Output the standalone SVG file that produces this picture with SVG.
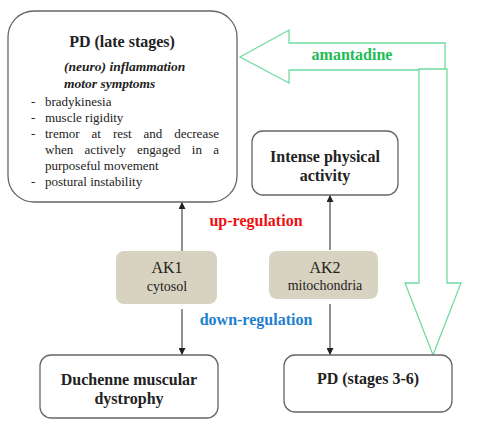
<svg xmlns="http://www.w3.org/2000/svg" width="500" height="426" viewBox="0 0 500 426">
<defs>
<style>
.box{fill:#fff;stroke:#666;stroke-width:1.3}
.ak{fill:#d8d3c1;stroke:none}
.t{font-family:"Liberation Serif","Times New Roman",serif;fill:#222}
.b{font-weight:bold}
.c{text-anchor:middle}
.li{font-size:13px}
.conn{stroke:#222;stroke-width:1;fill:none}
.green{fill:#fff;stroke:#6fdc9f;stroke-width:1.3}
</style>
<marker id="ah" viewBox="0 0 10 10" refX="10" refY="5" markerWidth="7" markerHeight="7" markerUnits="userSpaceOnUse" orient="auto">
<path d="M0,0 L10,5 L0,10 z" fill="#222"/>
</marker>
</defs>
<rect width="500" height="426" fill="#fff"/>

<g id="amantadine-arrow">
<polygon class="green" points="240,57 289,30 289,43 445,43 445,70 289,70 289,83"/>
<polygon class="green" points="419,69 447,69 447,283 461,283 433,355 405,283 419,283"/>
<text class="t b c" x="352" y="60" font-size="16" style="fill:#22bb55">amantadine</text>
</g>

<g id="connectors">
<line class="conn" x1="182" y1="251" x2="182" y2="202" marker-end="url(#ah)"/>
<line class="conn" x1="182" y1="309" x2="182" y2="355" marker-end="url(#ah)"/>
<line class="conn" x1="330" y1="250" x2="330" y2="195" marker-end="url(#ah)"/>
<line class="conn" x1="330" y1="304" x2="330" y2="355" marker-end="url(#ah)"/>
<text class="t b c" x="256" y="226" font-size="16" style="fill:#ee1111">up-regulation</text>
<text class="t b c" x="256" y="325" font-size="16" style="fill:#1e7fd0">down-regulation</text>
</g>

<g id="pd-late">
<rect class="box" x="8" y="11" width="229" height="191" rx="26" ry="26"/>
<text class="t b c" x="122" y="47" font-size="16">PD (late stages)</text>
<text class="t b" x="64" y="71" font-size="13.5" font-style="italic">(neuro) inflammation</text>
<text class="t b" x="64" y="88" font-size="13.5" font-style="italic">motor symptoms</text>
<text class="t li" x="31" y="106">-</text>
<text class="t li" x="45" y="106">bradykinesia</text>
<text class="t li" x="31" y="122">-</text>
<text class="t li" x="45" y="122">muscle rigidity</text>
<text class="t li" x="31" y="138">-</text>
<text class="t li" x="45" y="138">tremor</text>
<text class="t li" x="91.6" y="138">at</text>
<text class="t li" x="112.9" y="138">rest</text>
<text class="t li" x="143.6" y="138">and</text>
<text class="t li" x="219" y="138" text-anchor="end">decrease</text>
<text class="t li" x="45" y="154">when</text>
<text class="t li" x="84.6" y="154">actively</text>
<text class="t li" x="137.1" y="154">engaged</text>
<text class="t li" x="191.8" y="154">in</text>
<text class="t li" x="219" y="154" text-anchor="end">a</text>
<text class="t li" x="45" y="170">purposeful movement</text>
<text class="t li" x="31" y="186">-</text>
<text class="t li" x="45" y="186">postural instability</text>
</g>

<g id="intense">
<rect class="box" x="252" y="131" width="146" height="64" rx="11" ry="11"/>
<text class="t b c" x="325" y="162" font-size="16">Intense physical</text>
<text class="t b c" x="325" y="181" font-size="16">activity</text>
</g>

<g id="ak1">
<rect class="ak" x="116" y="251" width="101" height="53" rx="8" ry="8"/>
<text class="t c" x="167" y="273" font-size="16">AK1</text>
<text class="t c" x="167" y="291" font-size="14">cytosol</text>
</g>

<g id="ak2">
<rect class="ak" x="269" y="251" width="109" height="48" rx="8" ry="8"/>
<text class="t c" x="325" y="273" font-size="16">AK2</text>
<text class="t c" x="325" y="290" font-size="14">mitochondria</text>
</g>

<g id="duchenne">
<rect class="box" x="40" y="355" width="178" height="63" rx="11" ry="11"/>
<text class="t b c" x="129" y="385" font-size="16">Duchenne muscular</text>
<text class="t b c" x="129" y="404" font-size="16">dystrophy</text>
</g>

<g id="pd-stages">
<rect class="box" x="284" y="355" width="168" height="57" rx="11" ry="11"/>
<text class="t b c" x="368" y="384" font-size="16">PD (stages 3-6)</text>
</g>
</svg>
